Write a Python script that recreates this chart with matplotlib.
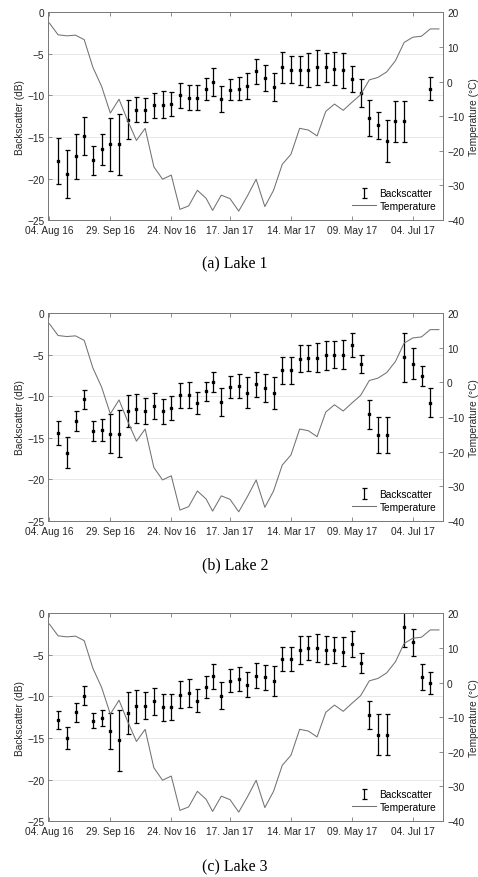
import datetime as dt
import numpy as np
import matplotlib
matplotlib.use("Agg")
import matplotlib.pyplot as plt
import matplotlib.dates as mdates

plt.rcParams['font.family'] = ['Liberation Sans', 'DejaVu Sans']

# 8-day composite dates (day of year)
bs_doy_2016 = list(range(225, 362, 8))     # 12 Aug .. 26 Dec 2016
bs_doy_2017 = list(range(1, 202, 8))       # 01 Jan .. 20 Jul 2017
t_doy_2016 = list(range(217, 362, 8))      # 04 Aug .. 26 Dec 2016
t_doy_2017 = list(range(1, 210, 8))        # 01 Jan .. 28 Jul 2017

nan = np.nan

# backscatter mean (dB) and spread, one list per lake
lake1_mean = [-17.9, -19.5, -17.3, -14.9, -17.8, -16.5, -15.9, -15.9, -12.9, -11.7,
              -11.8, -11.2, -11.1, -11.0, -10.0, -10.3, -10.3, -9.2,
              -8.4, -10.4, -9.3, -9.2, -8.9, -7.1, -7.9, -9.0, -6.6, -6.9, -7.0,
              -6.9, -6.6, -6.6, -6.8, -7.0, -8.0, -9.7, -12.7, -13.6, -15.5,
              -13.1, -13.1, nan, nan, -9.2]
lake1_err = [2.8, 2.9, 2.7, 2.25, 1.75, 1.9, 3.2, 3.7, 2.35, 1.55,
             1.45, 1.55, 1.6, 1.45, 1.5, 1.5, 1.5, 1.35,
             1.65, 1.55, 1.3, 1.4, 1.55, 1.5, 1.55, 1.7, 1.85, 1.6, 1.7,
             2.05, 2.1, 1.75, 2.0, 2.15, 1.55, 1.7, 2.2, 1.65, 2.5,
             2.45, 2.45, nan, nan, 1.4]

lake2_mean = [-14.4, -16.8, -13.0, -10.4, -14.2, -14.1, -14.5, -14.5, -11.8, -11.5,
              -11.8, -11.2, -11.8, -11.4, -9.9, -9.9, -10.8, -9.4,
              -8.3, -10.7, -8.9, -8.8, -9.6, -8.6, -9.0, -9.6, -6.9, -6.9, -5.5,
              -5.4, -5.4, -5.1, -5.0, -5.0, -3.9, -6.1, -12.2, -14.7, -14.7,
              nan, -5.3, -6.1, -7.6, -10.8]
lake2_err = [1.45, 1.85, 1.25, 1.15, 1.2, 1.3, 2.35, 2.85, 1.9, 1.7,
             1.6, 1.55, 1.5, 1.45, 1.5, 1.55, 1.3, 1.15,
             1.2, 1.7, 1.3, 1.45, 1.85, 1.55, 1.65, 1.95, 1.65, 1.65, 1.6,
             1.55, 1.75, 1.75, 1.6, 1.75, 1.45, 1.1, 1.75, 2.2, 2.2,
             nan, 2.95, 1.85, 1.2, 1.75]

lake3_mean = [-12.8, -15.0, -11.9, -9.9, -12.9, -12.6, -14.2, -15.3, -12.0, -11.2,
              -11.1, -10.6, -11.3, -11.3, -9.8, -9.6, -10.5, -8.9,
              -7.6, -9.9, -8.1, -7.9, -8.6, -7.5, -7.7, -8.2, -5.5, -5.5, -4.4,
              -4.2, -4.2, -4.4, -4.4, -4.6, -3.7, -6.0, -12.2, -14.6, -14.6,
              nan, -1.7, -3.5, -7.7, -8.4]
lake3_err = [1.1, 1.3, 1.15, 1.15, 0.95, 1.0, 2.15, 3.65, 2.55, 1.95,
             1.65, 1.65, 1.6, 1.55, 1.6, 1.65, 1.4, 1.35,
             1.55, 1.6, 1.4, 1.4, 1.5, 1.5, 1.5, 1.8, 1.5, 1.5, 1.65,
             1.45, 1.65, 1.65, 1.6, 1.7, 1.6, 1.2, 1.7, 2.45, 2.45,
             nan, 2.4, 1.6, 1.55, 1.35]

# air temperature (deg C), same for all lakes
temperature = [16.9, 13.5, 13.2, 13.4, 12.1, 4.1, -1.4, -9.1, -5.1, -11.3,
               -17.0, -13.5, -24.6, -28.2, -27.0, -36.9, -35.9, -31.4, -33.7,
               -37.2, -32.8, -33.8, -37.4, -33.0, -28.2, -36.1, -31.4, -23.9,
               -21.0, -13.5, -14.0, -15.7, -8.6, -6.5, -8.3, -6.0, -3.8, 0.5,
               1.2, 2.8, 6.0, 11.3, 12.8, 13.1, 15.2, 15.2]

captions = ['(a) Lake 1', '(b) Lake 2', '(c) Lake 3']
tick_dates = ['2016-08-04', '2016-09-29', '2016-11-24', '2017-01-17',
              '2017-03-14', '2017-05-09', '2017-07-04']


def doy2date(year, doys):
    return [dt.datetime(year, 1, 1) + dt.timedelta(days=d - 1) for d in doys]


bs_dates = doy2date(2016, bs_doy_2016) + doy2date(2017, bs_doy_2017)
t_dates = doy2date(2016, t_doy_2016) + doy2date(2017, t_doy_2017)
ticks = [dt.datetime.strptime(s, '%Y-%m-%d') for s in tick_dates]

lakes = [(lake1_mean, lake1_err), (lake2_mean, lake2_err), (lake3_mean, lake3_err)]

W, H = 478., 878.
axc = '#7a7a7a'
txc = '#262626'
fs = 7.3

fig = plt.figure(figsize=(W / 100, H / 100), dpi=100)
tops = [13.3, 314.0, 614.3]
cap_y = [263, 565, 866]
for i, (mean, err) in enumerate(lakes):
    top = tops[i]
    ax = fig.add_axes([48.3 / W, 1 - (top + 207.8) / H, 395.0 / W, 207.8 / H])
    # bars and markers separately so the legend shows only the bar
    eb = ax.errorbar(bs_dates, mean, yerr=err, fmt='none', ecolor='k',
                     elinewidth=0.9, capsize=1.8, capthick=0.9, zorder=3)
    ax.plot(bs_dates, mean, 's', ms=2.0, color='k', zorder=4)
    ax.set_ylim(-25, 0)
    ax.set_yticks(range(-25, 1, 5))
    ax.set_xlim(dt.datetime(2016, 8, 3), dt.datetime(2017, 8, 1))
    ax.set_xticks(ticks)
    ax.xaxis.set_major_formatter(mdates.DateFormatter('%d. %b %y'))
    ax.yaxis.grid(True, color='#e8e8e8', lw=0.7)
    ax.set_axisbelow(True)
    ax.tick_params(axis='both', direction='in', length=3, width=0.6,
                   color=axc, labelcolor=txc, labelsize=fs)
    ax.tick_params(axis='x', top=True, pad=3.8)
    ax.tick_params(axis='y', pad=3)
    ax.set_ylabel('Backscatter (dB)', fontsize=fs, color=txc)
    ax.yaxis.set_label_coords(-0.058, 0.5)

    ax2 = ax.twinx()
    ln, = ax2.plot(t_dates, temperature, color='#727272', lw=0.75)
    ax2.set_ylim(-40, 20)
    ax2.set_yticks(range(-40, 21, 10))
    ax2.tick_params(axis='y', direction='in', length=3, width=0.6,
                    color=axc, labelcolor=txc, labelsize=fs, pad=2.7)
    ax2.set_ylabel('Temperature (\u00b0C)', fontsize=fs, color=txc)
    ax2.yaxis.set_label_coords(1.066, 0.5)
    for a in (ax, ax2):
        for s in a.spines.values():
            s.set_color(axc)
            s.set_linewidth(0.7)

    ax2.legend([eb, ln], ['Backscatter', 'Temperature'], loc='lower right',
               bbox_to_anchor=(1.0, 0.01), frameon=False, fontsize=fs,
               handlelength=2.4, handletextpad=0.3, labelspacing=0.25,
               borderaxespad=0.3)

    fig.text(235 / W, 1 - cap_y[i] / H, captions[i], ha='center', va='center',
             family=['Liberation Serif', 'DejaVu Serif'], fontsize=11.5)

fig.savefig('out.png', dpi=100)
